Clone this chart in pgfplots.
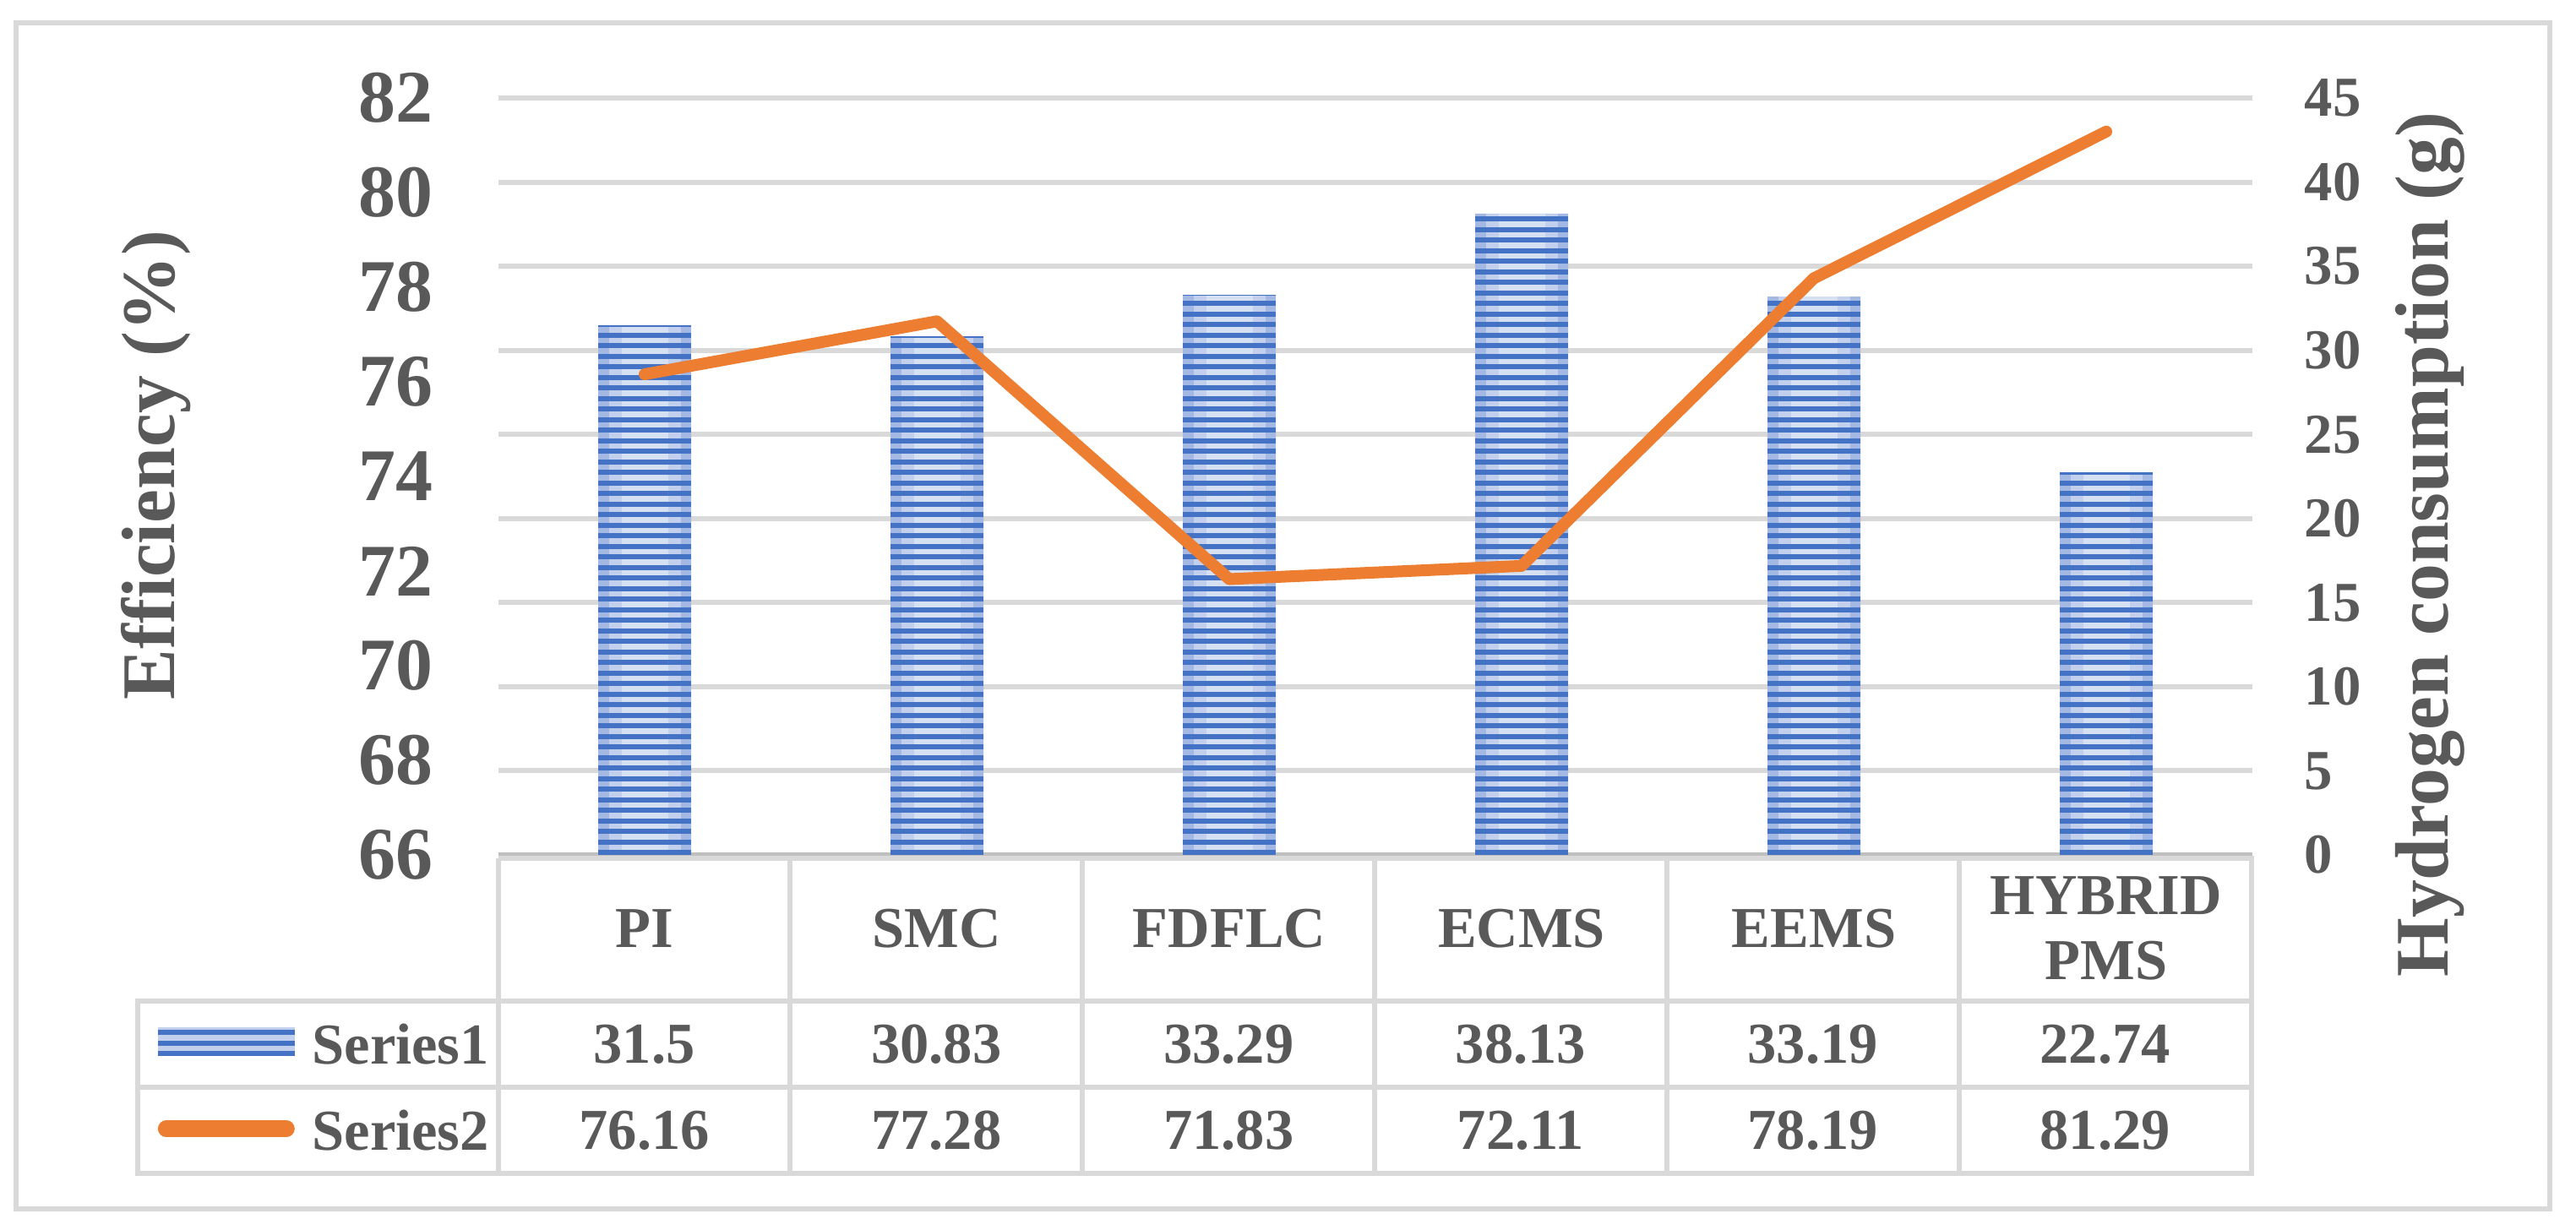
\documentclass[border=0pt]{standalone}
\usepackage{fontspec}
\setmainfont{Liberation Serif}
\usepackage{pgfplots}
\usepackage{pgfplotstable}
\pgfplotsset{compat=1.18}
\definecolor{txt}{HTML}{595959}
\definecolor{gridc}{HTML}{D9D9D9}
\definecolor{axc}{HTML}{BFBFBF}
\definecolor{barblue}{HTML}{4472C4}
\definecolor{barlight}{HTML}{D6E0F3}
\definecolor{barmid}{HTML}{C2D0ED}
\definecolor{baredge}{HTML}{A3B8E3}
\definecolor{lineor}{HTML}{ED7D31}
\newcommand\fsLeft{\fontsize{25}{30}\selectfont\bfseries}
\newcommand\fsRight{\fontsize{19}{23}\selectfont\bfseries}
\newcommand\fsTab{\fontsize{19.5}{22}\selectfont\bfseries}
\newcommand\fsTitle{\fontsize{25.5}{30}\selectfont\bfseries}
\tikzset{stripes/.style={dash pattern=on 0.058cm off 0.067cm}}
\pgfplotstableread{
x h eff
0 31.5 76.16
1 30.83 77.28
2 33.29 71.83
3 38.13 72.11
4 33.19 78.19
5 22.74 81.29
}\datatab
\begin{document}
\begin{tikzpicture}
\path[use as bounding box] (0,0) rectangle (30.49cm,-14.55cm);
\draw[gridc, line width=0.06cm] (0.19cm,-0.27cm) rectangle (30.18cm,-14.31cm);
\begin{axis}[
  at={(5.90cm,-10.12cm)}, anchor=south west,
  scale only axis, width=20.76cm, height=8.96cm,
  xmin=-0.5, xmax=5.5, ymin=0, ymax=45,
  axis x line*=bottom, axis y line*=right,
  x axis line style={draw=axc, line width=0.06cm},
  y axis line style={draw=none},
  xtick={0,...,5},
  xticklabels={PI,SMC,FDFLC,ECMS,EEMS,{HYBRID\\PMS}},
  x tick label style={align=center, anchor=center, yshift=-0.87cm, font=\fsTab, text=txt, inner sep=0pt},
  ytick={0,5,...,45},
  y tick label style={anchor=west, xshift=0.61cm, inner sep=0pt, font=\fsRight, text=txt},
  major tick length=0pt,
  ymajorgrids, grid style={draw=gridc, line width=0.06cm},
  /pgf/number format/assume math mode=true,
]
\addplot[ybar, bar width=1.1cm, draw=none, fill=baredge] table[x=x,y=h]{\datatab};
\addplot[ycomb, draw=barmid, line width=0.85cm, line cap=butt, mark=none] table[x=x,y=h]{\datatab};
\addplot[ycomb, draw=barlight, line width=0.55cm, line cap=butt, mark=none] table[x=x,y=h]{\datatab};
\addplot[ycomb, draw=barblue, line width=1.1cm, line cap=butt, mark=none, stripes] table[x=x,y=h]{\datatab};
\end{axis}
\begin{axis}[
  at={(5.90cm,-10.12cm)}, anchor=south west,
  scale only axis, width=20.76cm, height=8.96cm,
  xmin=-0.5, xmax=5.5, ymin=66, ymax=82,
  axis x line=none, axis y line*=left,
  y axis line style={draw=none},
  ytick={66,68,...,82},
  y tick label style={anchor=east, xshift=-0.77cm, inner sep=0pt, font=\fsLeft, text=txt},
  major tick length=0pt,
  /pgf/number format/assume math mode=true,
]
\addplot[lineor, line width=0.14cm, line join=round, line cap=round] table[x=x,y=eff]{\datatab};
\end{axis}
\begin{scope}[x=0.01cm,y=-0.01cm]
  \draw[gridc, line width=0.06cm] (590,1017) -- (2666,1017) -- (2666,1390) -- (163,1390) -- (163,1186) -- (2666,1186);
  \draw[gridc, line width=0.06cm] (163,1288) -- (2666,1288);
  \foreach \k in {0,...,5} {\draw[gridc, line width=0.06cm] ({590+346*\k},1017) -- ({590+346*\k},1390);}
  \fill[barmid] (187,1217) rectangle (349,1251);
  \draw[barblue, line width=1.62cm, line cap=butt, stripes] (268,1251) -- (268,1217);
  \draw[lineor, line width=0.2cm, line cap=round] (197,1337) -- (339,1337);
  \node[font=\fsTab, text=txt, anchor=west, inner sep=0pt] at (369,1237) {Series1};
  \node[font=\fsTab, text=txt, anchor=west, inner sep=0pt] at (369,1339) {Series2};
  \foreach \v [count=\i from 0] in {31.5,30.83,33.29,38.13,33.19,22.74}
    {\node[font=\fsTab, text=txt, inner sep=0pt] at ({763+346*\i},1237) {\v};}
  \foreach \v [count=\i from 0] in {76.16,77.28,71.83,72.11,78.19,81.29}
    {\node[font=\fsTab, text=txt, inner sep=0pt] at ({763+346*\i},1339) {\v};}
  \node[rotate=90, anchor=base, font=\fsTitle, text=txt] at (207,551) {Efficiency (\%)};
  \node[rotate=90, anchor=base, font=\fsTitle, text=txt] at (2899,645) {Hydrogen consumption (g)};
\end{scope}
\end{tikzpicture}
\end{document}
